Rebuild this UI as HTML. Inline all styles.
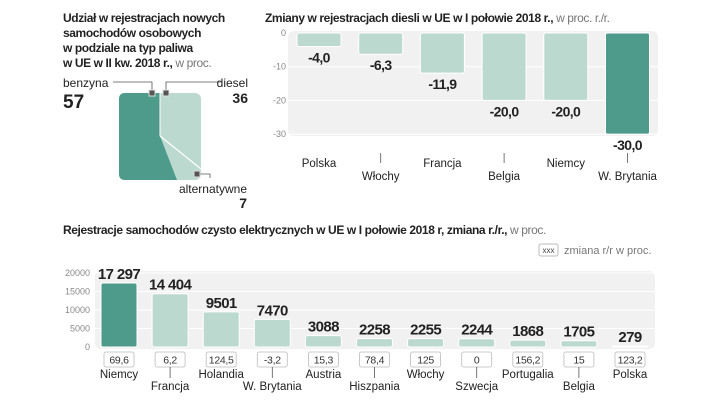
<!DOCTYPE html>
<html><head><meta charset="utf-8"><style>
body{margin:0;background:#fff;width:720px;height:405px;overflow:hidden;font-family:"Liberation Sans",sans-serif}
svg text{font-family:"Liberation Sans",sans-serif}
.t{font-weight:bold;font-size:12px;fill:#222;letter-spacing:-0.4px}
.n{font-weight:normal;fill:#777}
.ax{font-size:9px;fill:#888}
.lb{font-size:11.5px;fill:#222}
.val{font-weight:bold;font-size:14px;fill:#222;letter-spacing:-0.6px}
</style></head><body>
<svg id="s" width="720" height="405" xmlns="http://www.w3.org/2000/svg">
<g>
<text class="t" x="63" y="22">Udział w rejestracjach nowych</text>
<text class="t" x="63" y="37">samochodów osobowych</text>
<text class="t" x="63" y="52">w podziale na typ paliwa</text>
<text class="t" x="63" y="67">w UE w II kw. 2018 r., <tspan class="n">w proc.</tspan></text>
<rect x="119" y="93" width="82" height="87" rx="6" fill="#bcd9d0"/>
<path d="M125 93 L160 93 L160 136 L177 180 L125 180 Q119 180 119 174 L119 99 Q119 93 125 93 Z" fill="#4e9a8b"/>
<line x1="160" y1="136" x2="201" y2="169" stroke="#fff" stroke-width="1.2"/>
<line x1="160" y1="93" x2="160" y2="136" stroke="#fff" stroke-width="1"/>
<path d="M113 82 H152 V93 M221 82 H166 V93 M197 174 H210 V178" stroke="#555" fill="none" stroke-width="0.8"/>
<rect x="149" y="90" width="6" height="6" fill="#555" stroke="#ddd"/>
<rect x="163" y="90" width="6" height="6" fill="#555" stroke="#ddd"/>
<rect x="194" y="171" width="6" height="6" fill="#555" stroke="#ddd"/>
<text x="63" y="87" style="font-size:12px;fill:#222">benzyna</text>
<text x="63" y="108" style="font-size:19px;font-weight:bold;fill:#222">57</text>
<text x="248" y="87" text-anchor="end" style="font-size:12px;fill:#222">diesel</text>
<text x="248" y="103" text-anchor="end" style="font-size:14px;font-weight:bold;fill:#222">36</text>
<text x="247" y="193" text-anchor="end" style="font-size:12px;fill:#222">alternatywne</text>
<text x="247" y="208" text-anchor="end" style="font-size:14px;font-weight:bold;fill:#222">7</text>
</g>
<text class="t" x="265" y="22">Zmiany w rejestracjach diesli w UE w I połowie 2018 r., <tspan class="n">w proc. r./r.</tspan></text>
<g id="g1"></g>
<text class="t" x="63" y="234">Rejestracje samochodów czysto elektrycznych w UE w I połowie 2018 r, zmiana r./r., <tspan class="n">w proc.</tspan></text>
<rect x="539" y="244" width="19" height="12" rx="2" fill="#fff" stroke="#bbb"/>
<text x="548.5" y="253" text-anchor="middle" style="font-size:8px;fill:#444">xxx</text>
<text x="564" y="254" style="font-size:11px;fill:#777">zmiana r/r w proc.</text>
<g id="g2"></g>
</svg>
<script>
const NS="http://www.w3.org/2000/svg";
function mk(p,tag,a,txt){const e=document.createElementNS(NS,tag);for(const k in a)e.setAttribute(k,a[k]);if(txt!==undefined)e.textContent=txt;p.appendChild(e);return e;}
// Chart 1 data
const dCountries=["Polska","Włochy","Francja","Belgia","Niemcy","W. Brytania"];
const dValues=[-4.0,-6.3,-11.9,-20.0,-20.0,-30.0];
const dTicks=[0,-10,-20,-30];
// Chart 2 data
const eCountries=["Niemcy","Francja","Holandia","W. Brytania","Austria","Hiszpania","Włochy","Szwecja","Portugalia","Belgia","Polska"];
const eValues=[17297,14404,9501,7470,3088,2258,2255,2244,1868,1705,279];
const eChange=["69,6","6,2","124,5","-3,2","15,3","78,4","125","0","156,2","15","123,2"];
const eTicks=[0,5000,10000,15000,20000];

const g1=document.getElementById('g1');
const y1=v=>33+(-v)*3.37, x1=i=>319+i*61.7;
const bg1=mk(g1,'rect',{x:288,y:31,width:370,height:105,rx:6,fill:'#f1f1f1'});


dTicks.forEach(t=>{
  if(t!==0){const l=mk(g1,'line',{x1:288,x2:658,y1:y1(t),y2:y1(t),stroke:'#fff','stroke-width':1});
  
  }
  const tx=mk(g1,'text',{x:286,y:y1(t)+3,'text-anchor':'end',class:'ax'},String(t));
  
  
});
dValues.forEach((v,i)=>{
  const last=i===dValues.length-1;
  const r=mk(g1,'rect',{x:x1(i)-22,y:y1(0),width:44,height:y1(v)-y1(0),rx:2,fill:last?'#4e9a8b':'#bcd9d0',stroke:'#fff','stroke-width':1});
  
  
  const t=mk(g1,'text',{x:x1(i),y:y1(v)+16,'text-anchor':'middle',class:'val'},v.toFixed(1).replace('.',','));
  
  
  const low=i%2===1;
  if(low){const l=mk(g1,'line',{x1:x1(i),x2:x1(i),y1:153,y2:163,stroke:'#555','stroke-width':0.8});
  
  }
  const c=mk(g1,'text',{x:x1(i),y:low?180:167,'text-anchor':'middle',class:'lb'},dCountries[i]);
  
  
});

const g2=document.getElementById('g2');
const y2=v=>347-v*74/20000, x2=i=>119+i*51.1;
const bg2=mk(g2,'rect',{x:95,y:271,width:560,height:78,rx:6,fill:'#f1f1f1'});


eTicks.forEach(t=>{
  if(t!==0){const l=mk(g2,'line',{x1:95,x2:655,y1:y2(t),y2:y2(t),stroke:'#fff','stroke-width':1});
  
  }
  const tx=mk(g2,'text',{x:90,y:y2(t)+3,'text-anchor':'end',class:'ax'},String(t));
  
  
});
eValues.forEach((v,i)=>{
  const r=mk(g2,'rect',{x:x2(i)-18,y:y2(v),width:36,height:Math.max(1,y2(0)-y2(v)),rx:2,fill:i===0?'#4e9a8b':'#bcd9d0',stroke:'#fff','stroke-width':1});
  
  
  const s=v>=10000?String(v).replace(/(\d)(?=(\d{3})$)/,'$1 '):String(v);
  const t=mk(g2,'text',{x:x2(i),y:y2(v)-4,'text-anchor':'middle',class:'val',style:'font-size:15px'},s);
  
  
  const b=mk(g2,'rect',{x:x2(i)-15,y:352,width:30,height:15,rx:2,fill:'#fff',stroke:'#bbb','stroke-width':0.8});
  
  
  const bt=mk(g2,'text',{x:x2(i),y:363.5,'text-anchor':'middle',style:'font-size:10.5px;fill:#333;letter-spacing:-0.3px'},eChange[i]);
  
  
  const low=i%2===1;
  if(low){const l=mk(g2,'line',{x1:x2(i),x2:x2(i),y1:367,y2:378,stroke:'#555','stroke-width':0.8});
  
  }
  const c=mk(g2,'text',{x:x2(i),y:low?390:378,'text-anchor':'middle',class:'lb'},eCountries[i]);
  
  
});
</script>
</body></html>
